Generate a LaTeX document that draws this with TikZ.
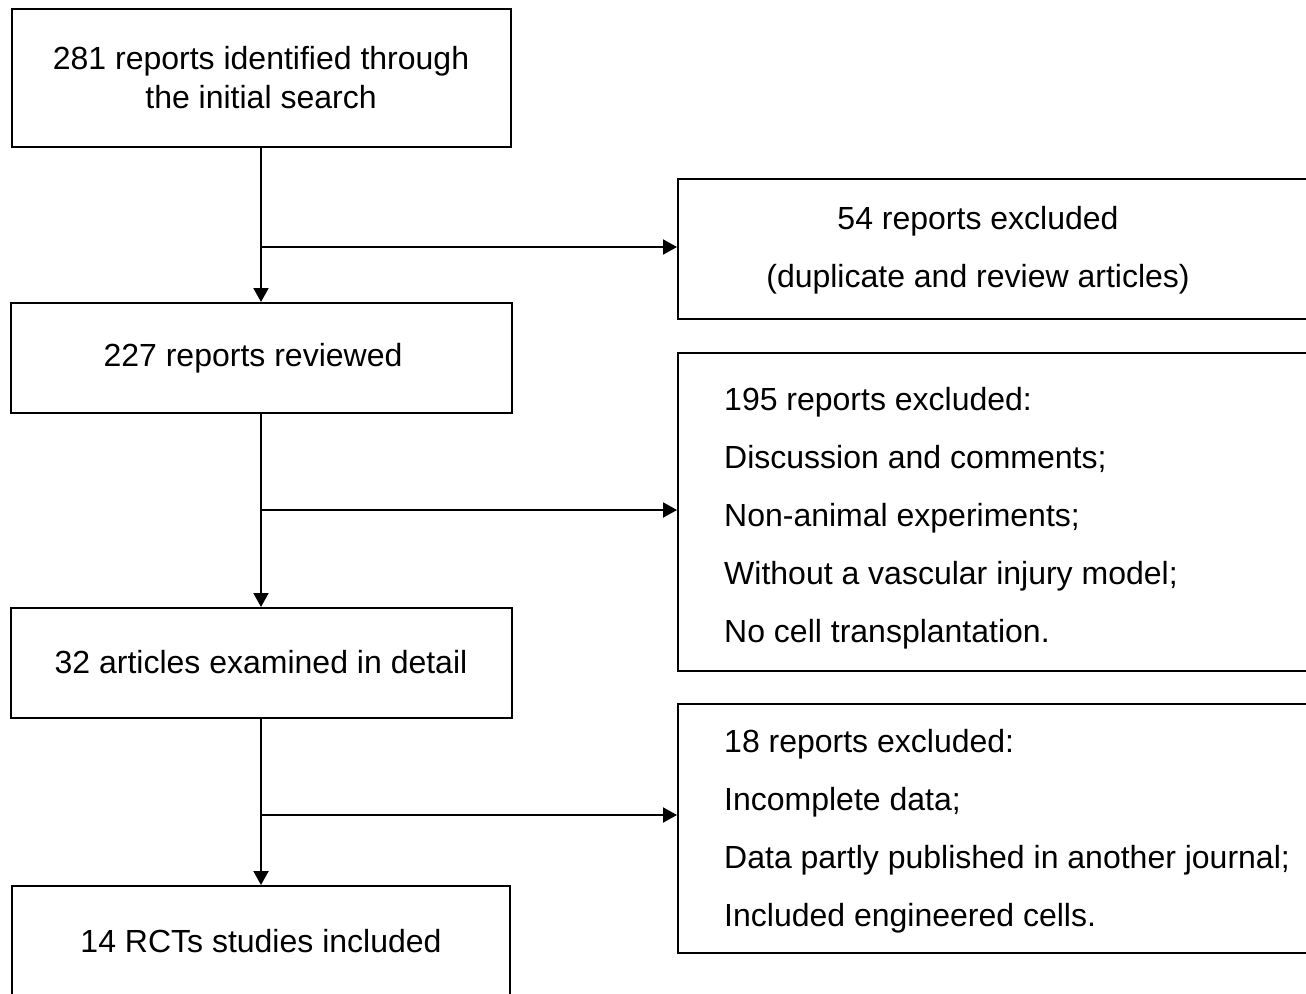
\documentclass[tikz,border=0pt]{standalone}
\usepackage{fontspec}
\setmainfont{Liberation Sans}
\usetikzlibrary{arrows.meta}
\begin{document}
\begin{tikzpicture}[x=1pt,y=-1pt,
  box/.style={draw,line width=2pt,rectangle,inner sep=0pt,align=center,
    font={\fontsize{32}{39}\selectfont}},
  frame/.style={draw,line width=2pt,rectangle,inner sep=0pt,anchor=north west,minimum width=660pt},
  extxt/.style={inner sep=0pt,align=left,anchor=base west,font={\fontsize{32}{58}\selectfont}},
  txt/.style={inner sep=0pt,align=center,font={\fontsize{32}{58}\selectfont}},
  arr/.style={line width=2pt,-{Triangle[length=14pt,width=15pt]}}]
\useasboundingbox (0,0) rectangle (1306,993);
\clip (0,0) rectangle (1306,993);
% left column
\node[box,minimum width=499pt,minimum height=138pt] (b1) at (261,78) {281 reports identified through\\the initial search};
\node[box,minimum width=501pt,minimum height=110pt] (b2) at (261,358) {\hspace*{-16pt}\raisebox{-3pt}{227 reports reviewed}};
\node[box,minimum width=501pt,minimum height=110pt] (b3) at (261,663) {\raisebox{1.5pt}{32 articles examined in detail}};
\node[box,minimum width=498pt,minimum height=110pt] (b4) at (261,941) {14 RCTs studies included};
% right column
\node[frame,minimum height=140pt] (e1) at (677,178) {};
\node[txt] (t1) at (978,250) {54 reports excluded\\(duplicate and review articles)};
\node[frame,minimum height=318pt] (e2) at (677,352) {};
\node[extxt] (t2) at (724,642.5) {195 reports excluded:\\Discussion and comments;\\Non-animal experiments;\\Without a vascular injury model;\\No cell transplantation.};
\node[frame,minimum height=249pt] (e3) at (677,703) {};
\node[extxt] (t3) at (724,926.5) {18 reports excluded:\\Incomplete data;\\Data partly published in another journal;\\Included engineered cells.};
% connectors
\coordinate (j1) at (261,247);
\coordinate (j2) at (261,510);
\coordinate (j3) at (261,815);
\draw[arr] (b1.south) -- (b2.north);
\draw[arr] (b2.south) -- (b3.north);
\draw[arr] (b3.south) -- (b4.north);
\draw[arr] (j1) -- (j1 -| e1.west);
\draw[arr] (j2) -- (j2 -| e2.west);
\draw[arr] (j3) -- (j3 -| e3.west);
\end{tikzpicture}
\end{document}
